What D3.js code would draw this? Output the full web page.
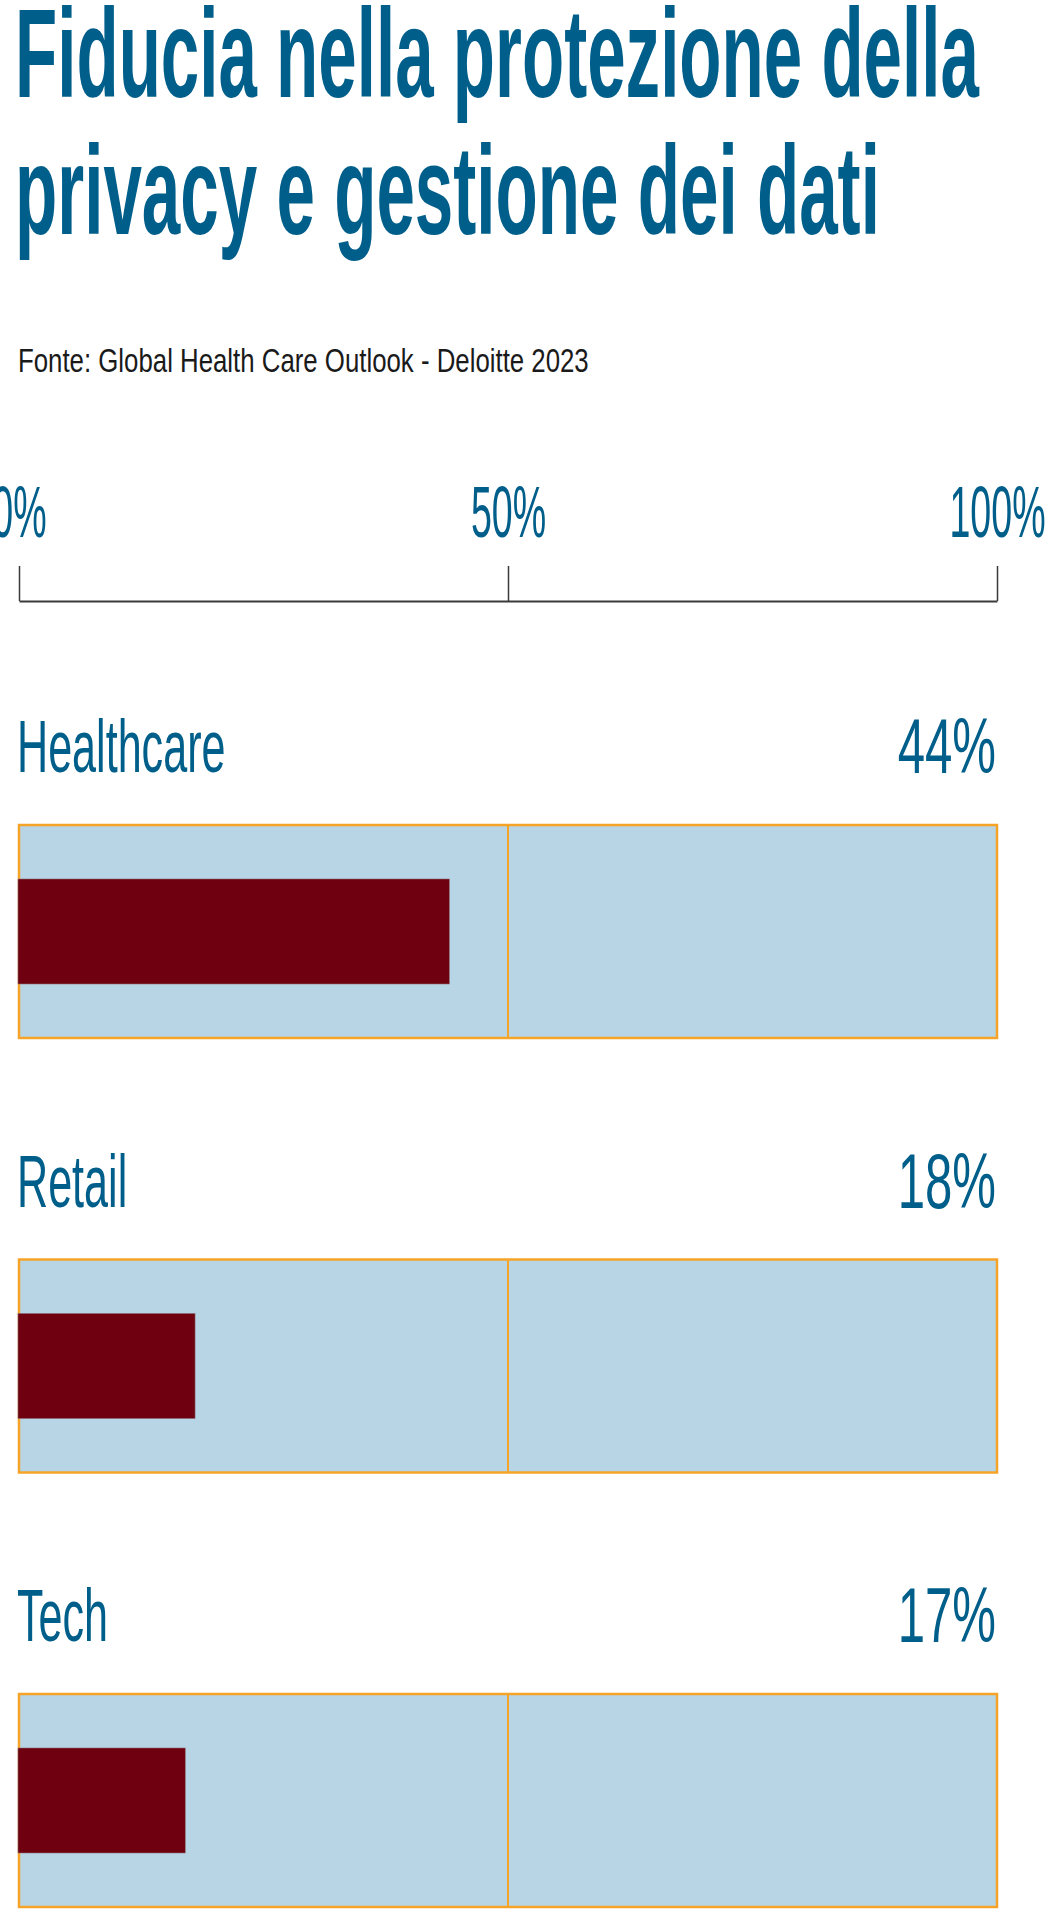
<!DOCTYPE html>
<html>
<head>
<meta charset="utf-8">
<script src="https://cdn.jsdelivr.net/npm/d3@7"></script>
<style>
  html, body { margin: 0; padding: 0; background: #ffffff; }
  svg { display: block; }
</style>
</head>
<body>
<div id="chart"></div>
<script>
// ---- data ----
const categories = ["Healthcare", "Retail", "Tech"];
const values = [44, 18, 17];
const tickValues = [0, 50, 100];
const tickLabels = ["0%", "50%", "100%"];
const titleLines = ["Fiducia nella protezione della", "privacy e gestione dei dati"];
const sourceText = "Fonte: Global Health Care Outlook - Deloitte 2023";

// ---- styling / layout ----
const W = 1045, H = 1911;
const BLUE = "#005f8a", RED = "#6e000f", LIGHT = "#b8d5e6", ORANGE = "#f6a428", AXIS = "#3a3a3a";
const FONT = "'Liberation Sans', Arimo, Arial, sans-serif";

const svg = d3.select("#chart").append("svg")
  .attr("width", W).attr("height", H)
  .attr("viewBox", `0 0 ${W} ${H}`);

// fit a text element horizontally to a target width with a scaleX transform
function fitWidth(sel, tx, ty, target) {
  sel.each(function(d, i) {
    const t = d3.select(this);
    const natural = this.getComputedTextLength();
    const tw = typeof target === "function" ? target(d, i) : target;
    const ttx = typeof tx === "function" ? tx(d, i) : tx;
    const tty = typeof ty === "function" ? ty(d, i) : ty;
    const s = natural > 0 ? tw / natural : 1;
    t.attr("transform", `translate(${ttx},${tty}) scale(${s},1)`);
  });
}

// Title
const titleBase = [97, 234];
const titleWidths = [964, 865];
const titleSel = svg.append("g").selectAll("text").data(titleLines).join("text")
  .attr("x", 0).attr("y", 0)
  .attr("font-family", FONT)
  .attr("font-weight", "bold")
  .attr("font-size", 126)
  .attr("fill", BLUE)
  .text(d => d);
fitWidth(titleSel, 15, (d, i) => titleBase[i], (d, i) => titleWidths[i]);

// Source
const srcSel = svg.append("text")
  .attr("x", 0).attr("y", 0)
  .attr("font-family", FONT)
  .attr("font-size", 33)
  .attr("fill", "#1a1a1a")
  .text(sourceText);
fitWidth(srcSel, 18, 372, 571);

// x scale
const x = d3.scaleLinear().domain([0, 100]).range([19, 997]);

// Axis (ticks above baseline)
const axisY = 601;
const axis = d3.axisTop(x)
  .tickValues(tickValues)
  .tickSize(35)
  .tickSizeOuter(0)
  .tickFormat((d, i) => tickLabels[i]);
const gAxis = svg.append("g").attr("transform", `translate(0,${axisY})`).call(axis);
gAxis.select(".domain").attr("stroke", AXIS).attr("stroke-width", 2);
gAxis.selectAll(".tick line").attr("stroke", AXIS).attr("stroke-width", 1.5);
gAxis.selectAll(".tick text")
  .attr("font-family", FONT)
  .attr("font-size", 73)
  .attr("fill", BLUE)
  .attr("y", 0).attr("dy", 0)
  .attr("text-anchor", "middle")
  .attr("transform", `translate(0,-64) scale(0.515,1)`);

// Rows
const y = d3.scalePoint().domain(categories).range([825, 1694]);
const rowH = 213, barOff = 54, barH = 105, labelGap = 53;

const rows = svg.append("g").selectAll("g").data(categories).join("g")
  .attr("transform", d => `translate(0,${y(d)})`);

rows.append("rect")
  .attr("x", x(0)).attr("y", 0)
  .attr("width", x(100) - x(0)).attr("height", rowH)
  .attr("fill", LIGHT)
  .attr("stroke", ORANGE).attr("stroke-width", 2.5);

rows.append("line")
  .attr("x1", x(50)).attr("x2", x(50))
  .attr("y1", 0).attr("y2", rowH)
  .attr("stroke", ORANGE).attr("stroke-width", 2);

rows.append("rect")
  .attr("x", x(0) - 1).attr("y", barOff)
  .attr("width", (d, i) => x(values[i]) - x(0) + 1)
  .attr("height", barH)
  .attr("fill", RED)
  .attr("stroke", "#8c6b74").attr("stroke-width", 0.6);

rows.append("text")
  .attr("transform", `translate(${x(0) - 2},${-labelGap}) scale(0.575,1)`)
  .attr("font-family", FONT)
  .attr("font-size", 75)
  .attr("fill", BLUE)
  .text(d => d);

rows.append("text")
  .attr("transform", `translate(${x(100) - 1},${-labelGap + 1}) scale(0.63,1)`)
  .attr("text-anchor", "end")
  .attr("font-family", FONT)
  .attr("font-size", 78)
  .attr("fill", BLUE)
  .text((d, i) => values[i] + "%");
</script>
</body>
</html>
